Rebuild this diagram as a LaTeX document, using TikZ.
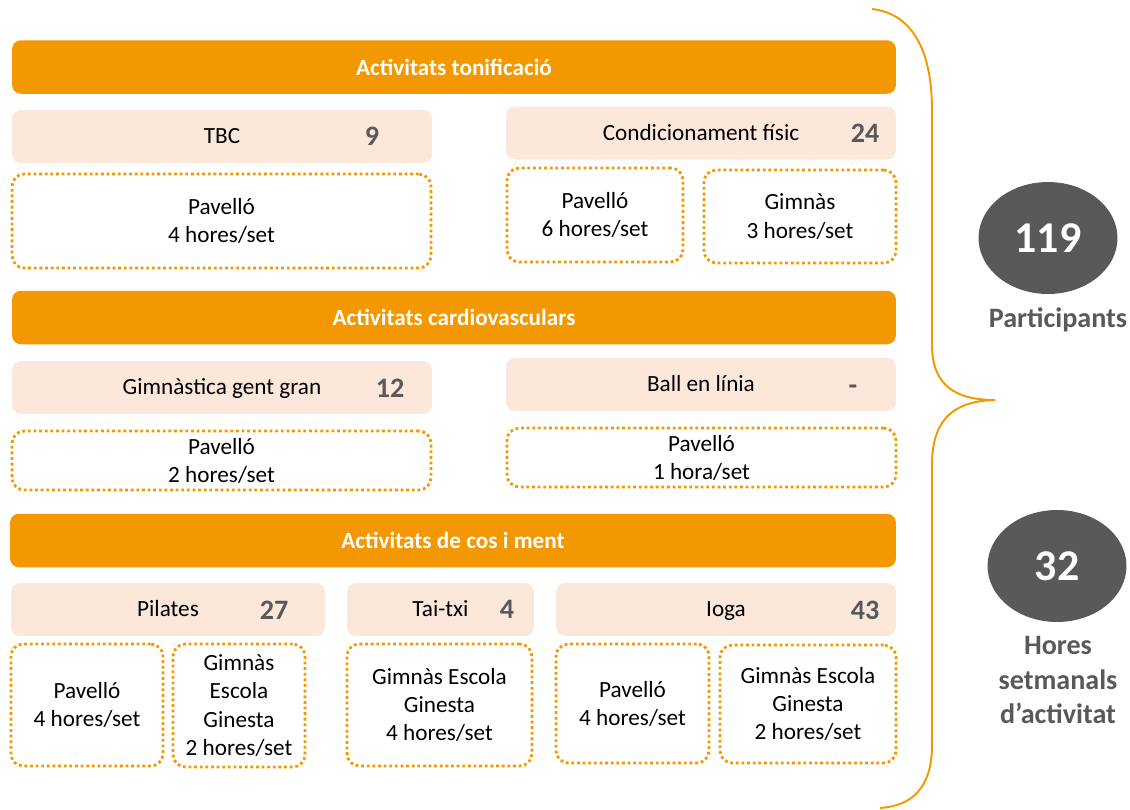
\documentclass[tikz,border=0pt]{standalone}
\usepackage{fontspec}
\setmainfont{Carlito}
\usepackage{xcolor}
\usepackage{tikz}
\usetikzlibrary{shapes.geometric}

\definecolor{taronja}{HTML}{F39800}
\definecolor{salmo}{HTML}{FCE8DA}
\definecolor{grisfosc}{HTML}{595959}

\tikzset{
  header/.style={rectangle, rounded corners=5pt, fill=taronja, text=white, font=\fontsize{13.2}{15}\selectfont\bfseries, minimum width=17.68cm, minimum height=1.07cm},
  actbox/.style={rectangle, rounded corners=5pt, fill=salmo, text=black, font=\fontsize{13.2}{15}\selectfont, minimum height=1.06cm, text height=11pt, text depth=2.5pt},
  placebox/.style={rectangle, rounded corners=7pt, draw=taronja, line width=1.6pt, dash pattern=on 1.6pt off 1.6pt, text=black, font=\fontsize{13.2}{16}\selectfont, align=center},
  numlabel/.style={text=grisfosc, font=\fontsize{16}{18}\selectfont\bfseries, text height=10.1pt, text depth=0pt},
  totaloval/.style={ellipse, fill=grisfosc, text=white, font=\fontsize{25}{28}\selectfont\bfseries, minimum width=2.78cm, minimum height=2.24cm, inner sep=0pt},
  totaltext/.style={text=grisfosc, font=\fontsize{16}{19.5}\selectfont\bfseries, align=center}
}

\begin{document}
\begin{tikzpicture}[x=0.02cm, y=-0.02cm]
            \useasboundingbox (0,0) rectangle (1130,809);
            % activitats tonificacio
            \node[header] (Toni) at (454,67) {Activitats tonificació};
            \node[actbox, minimum width=8.4cm] (TBC) at (222,136.5) {TBC};
            \node[numlabel] (nTBC) at (372,137) {9};
            \node[placebox, minimum width=8.38cm, minimum height=1.88cm] (TBCloc) at (221.5,221) {Pavelló\\4 hores/set};
            \node[actbox, minimum width=7.8cm] (Cond) at (701,133) {Condicionament físic};
            \node[numlabel] (nCond) at (865,134) {24};
            \node[placebox, minimum width=3.52cm, minimum height=1.88cm] (CondPav) at (595,215) {Pavelló\\6 hores/set};
            \node[placebox, minimum width=3.84cm, minimum height=1.86cm] (CondGim) at (800,216.5) {Gimnàs\\3 hores/set};
            % activitats cardiovasculars
            \node[header] (Cardio) at (454,317.5) {Activitats cardiovasculars};
            \node[actbox, minimum width=8.4cm] (Gent) at (222,387.5) {Gimnàstica gent gran};
            \node[numlabel] (nGent) at (390,389) {12};
            \node[placebox, minimum width=8.38cm, minimum height=1.18cm] (GentLoc) at (221.5,460.5) {Pavelló\\2 hores/set};
            \node[actbox, minimum width=7.8cm] (Ball) at (701,384.5) {Ball en línia};
            \node[numlabel] (nBall) at (853,386) {-};
            \node[placebox, minimum width=7.78cm, minimum height=1.18cm] (BallLoc) at (701.5,457.5) {Pavelló\\1 hora/set};
            % activitats de cos i ment
            \node[header, minimum width=17.72cm] (Cos) at (453,540.5) {Activitats de cos i ment};
            \node[actbox, minimum width=6.28cm] (Pil) at (168,609.5) {Pilates};
            \node[numlabel] (nPil) at (274,611) {27};
            \node[actbox, minimum width=3.74cm] (Tai) at (440.5,609.5) {Tai-txi};
            \node[numlabel] (nTai) at (507,610) {4};
            \node[actbox, minimum width=6.8cm] (Ioga) at (726,609.5) {Ioga};
            \node[numlabel] (nIoga) at (865,611) {43};
            \node[placebox, minimum width=3.04cm, minimum height=2.44cm] (PilPav) at (87,705) {Pavelló\\4 hores/set};
            \node[placebox, minimum width=2.64cm, minimum height=2.46cm] (PilGim) at (239,705.5) {Gimnàs\\Escola\\Ginesta\\2 hores/set};
            \node[placebox, minimum width=3.7cm, minimum height=2.44cm] (TaiLoc) at (439.5,705) {Gimnàs Escola\\Ginesta\\4 hores/set};
            \node[placebox, minimum width=3.06cm, minimum height=2.38cm] (IogaPav) at (632.5,703.5) {Pavelló\\4 hores/set};
            \node[placebox, minimum width=3.52cm, minimum height=2.36cm] (IogaGim) at (808,704) {Gimnàs Escola\\Ginesta\\2 hores/set};
            % clau i totals
            \coordinate (clauA) at (872,9);
            \coordinate (clauP) at (995,400);
            \coordinate (clauB) at (880,808);
            \draw[taronja, line width=1.1pt] (clauA) .. controls (915,14) and (932,55) .. (932,110) -- (932,345) .. controls (932,385) and (955,400) .. (clauP)
                 (clauP) .. controls (955,401) and (932,418) .. (932,465) -- (932,745) .. controls (932,790) and (910,806) .. (clauB);
            \node[totaloval] (Part) at (1048,238) {119};
            \node[totaltext] (PartTxt) at (1058,320) {Participants};
            \node[totaloval] (Hores) at (1057,566) {32};
            \node[totaltext] (HoresTxt) at (1058,680) {Hores\\setmanals\\d’activitat};
\end{tikzpicture}
\end{document}
